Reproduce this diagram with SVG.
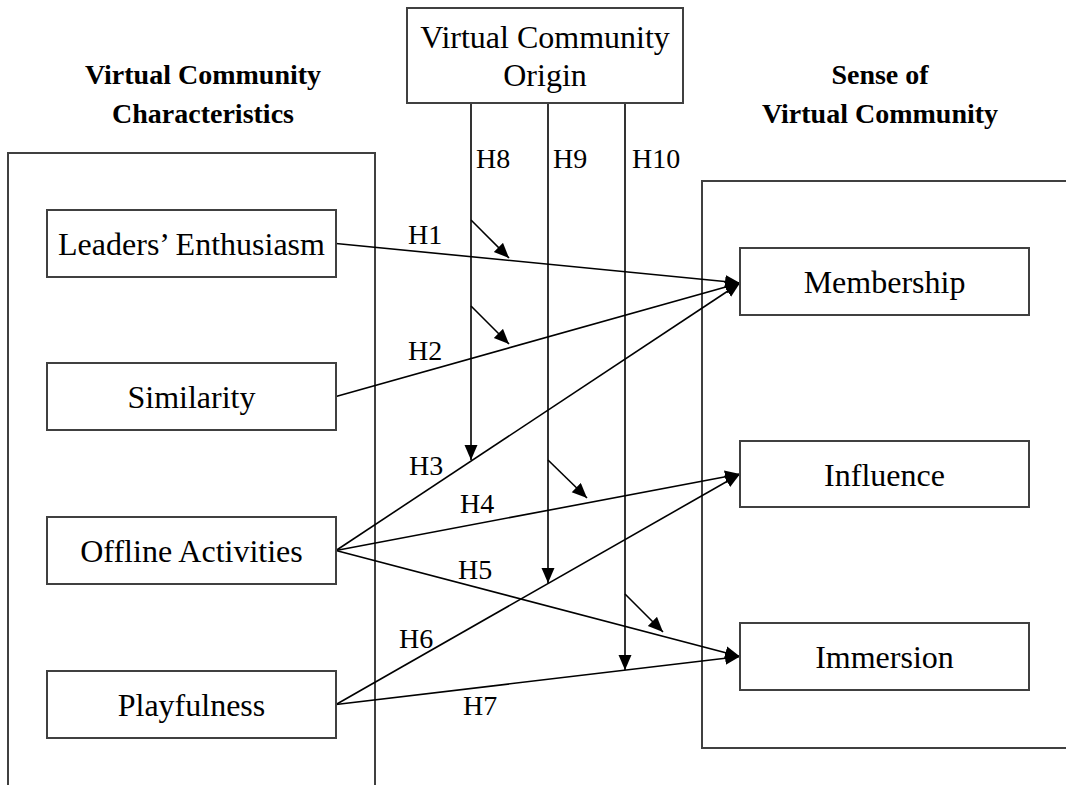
<svg xmlns="http://www.w3.org/2000/svg" width="1066" height="785" viewBox="0 0 1066 785">
<defs>
<marker id="ah" markerUnits="userSpaceOnUse" markerWidth="16" markerHeight="14" refX="15" refY="6.5" orient="auto">
<path d="M0,0 L15,6.5 L0,13 z" fill="#000"/>
</marker>
<style>
.box{fill:#fff;stroke:#404040;stroke-width:2}
.grp{fill:none;stroke:#404040;stroke-width:2}
.t{font-family:"Liberation Serif","Times New Roman",serif;font-size:32px;fill:#000;text-anchor:middle}
.h{font-family:"Liberation Serif","Times New Roman",serif;font-size:28px;font-weight:bold;fill:#000;text-anchor:middle}
.lb{font-family:"Liberation Serif","Times New Roman",serif;font-size:28px;fill:#000}
.c{fill:none;stroke:#000;stroke-width:1.6}
.ca{fill:none;stroke:#000;stroke-width:1.6;marker-end:url(#ah)}
</style>
</defs>
<rect width="1066" height="785" fill="#fff"/>
<g id="group-left">
<path class="grp" d="M8,785 L8,153 L375,153 L375,785"/>
<text class="h" x="203" y="84">Virtual Community</text>
<text class="h" x="203" y="123">Characteristics</text>
</g>
<g id="group-right">
<path class="grp" d="M1070,181 L702,181 L702,748 L1070,748"/>
<text class="h" x="880" y="84">Sense of</text>
<text class="h" x="880" y="123">Virtual Community</text>
</g>
<g id="connectors">
<line class="ca" x1="336" y1="243.5" x2="740" y2="283"/>
<line class="ca" x1="336" y1="396.5" x2="740" y2="283"/>
<line class="ca" x1="336" y1="550.5" x2="740" y2="283"/>
<line class="ca" x1="336" y1="550.5" x2="740" y2="474"/>
<line class="ca" x1="336" y1="550.5" x2="740" y2="656.5"/>
<line class="ca" x1="336" y1="704.5" x2="740" y2="474"/>
<line class="ca" x1="336" y1="704.5" x2="740" y2="656.5"/>
<line class="ca" x1="471" y1="103" x2="471" y2="460"/>
<line class="ca" x1="548" y1="103" x2="548" y2="583"/>
<line class="ca" x1="625" y1="103" x2="625" y2="670"/>
<line class="ca" x1="471" y1="220" x2="509" y2="258"/>
<line class="ca" x1="471" y1="306" x2="509" y2="344"/>
<line class="ca" x1="548" y1="460" x2="587" y2="498"/>
<line class="ca" x1="625" y1="594" x2="663" y2="632"/>
<text class="lb" x="408" y="244">H1</text>
<text class="lb" x="408" y="360">H2</text>
<text class="lb" x="409" y="475">H3</text>
<text class="lb" x="460" y="513">H4</text>
<text class="lb" x="458" y="579">H5</text>
<text class="lb" x="399" y="648">H6</text>
<text class="lb" x="463" y="715">H7</text>
<text class="lb" x="476" y="168">H8</text>
<text class="lb" x="553" y="168">H9</text>
<text class="lb" x="632" y="168">H10</text>
</g>
<g id="origin">
<rect class="box" x="407" y="8" width="276" height="95"/>
<text class="t" x="545" y="48">Virtual Community</text>
<text class="t" x="545" y="86">Origin</text>
</g>
<g id="leaders">
<rect class="box" x="47" y="210" width="289" height="67"/>
<text class="t" x="191.5" y="255">Leaders’ Enthusiasm</text>
</g>
<g id="similarity">
<rect class="box" x="47" y="363" width="289" height="67"/>
<text class="t" x="191.5" y="408">Similarity</text>
</g>
<g id="offline">
<rect class="box" x="47" y="517" width="289" height="67"/>
<text class="t" x="191.5" y="562">Offline Activities</text>
</g>
<g id="playfulness">
<rect class="box" x="47" y="671" width="289" height="67"/>
<text class="t" x="191.5" y="716">Playfulness</text>
</g>
<g id="membership">
<rect class="box" x="740" y="248" width="289" height="67"/>
<text class="t" x="884.5" y="293">Membership</text>
</g>
<g id="influence">
<rect class="box" x="740" y="441" width="289" height="66"/>
<text class="t" x="884.5" y="486">Influence</text>
</g>
<g id="immersion">
<rect class="box" x="740" y="623" width="289" height="67"/>
<text class="t" x="884.5" y="668">Immersion</text>
</g>
</svg>
